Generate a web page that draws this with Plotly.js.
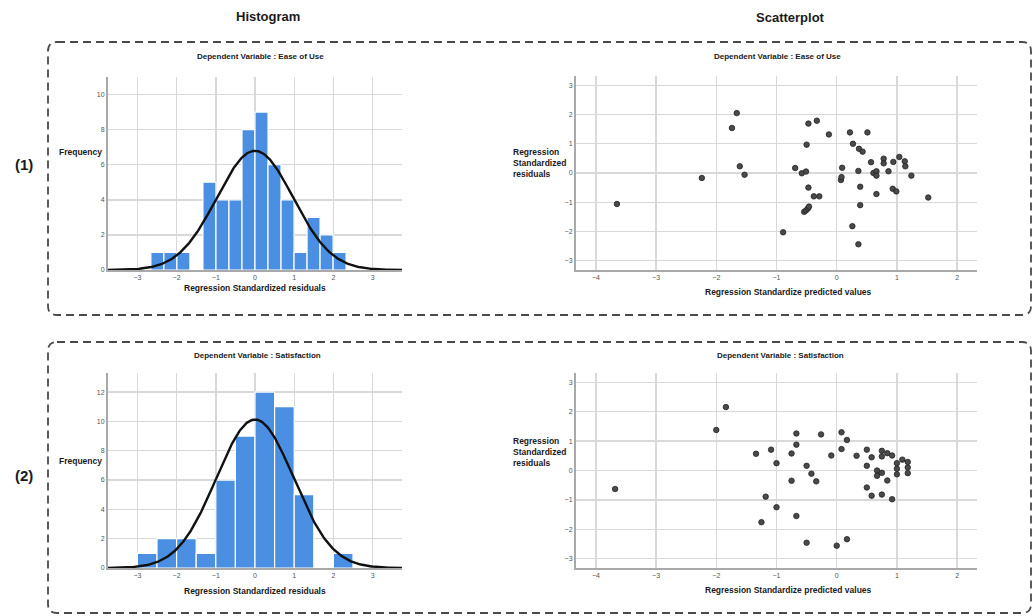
<!DOCTYPE html>
<html>
<head>
<meta charset="utf-8">
<script src="https://cdn.plot.ly/plotly-3.0.1.min.js"></script>
<style>html,body{margin:0;padding:0;background:#fff;}#chart{width:1035px;height:616px;}</style>
</head>
<body>
<div id="chart"></div>
<script>
// ---------- DATA ----------
// Histogram (1): Ease of Use residuals
const hist1BinStart = -2.656;
const hist1BinWidth = 0.332;
const hist1Counts = [1, 1, 1, 0, 5, 4, 4, 8, 9, 6, 4, 1, 3, 2, 1];
const hist1N = 50, hist1Mean = 0.0, hist1SD = 0.975;

// Histogram (2): Satisfaction residuals
const hist2BinStart = -3.0;
const hist2BinWidth = 0.5;
const hist2Counts = [1, 2, 2, 1, 6, 9, 12, 11, 5, 0, 1];
const hist2N = 50, hist2Mean = 0.0, hist2SD = 0.985;

// Scatterplot (1): Ease of Use
const scat1X = [-3.65,-2.24,-1.74,-1.66,-1.61,-1.53,-0.89,-0.69,-0.58,-0.51,-0.50,-0.47,-0.47,-0.54,-0.51,-0.48,-0.46,-0.38,-0.29,-0.33,-0.13,0.07,0.08,0.09,0.22,0.27,0.26,0.36,0.36,0.37,0.43,0.39,0.39,0.51,0.57,0.61,0.66,0.66,0.66,0.78,0.78,0.86,0.94,0.93,0.99,1.04,1.13,1.14,1.24,1.52];
const scat1Y = [-1.06,-0.17,1.54,2.05,0.23,-0.06,-2.03,0.17,-0.01,0.05,0.97,1.69,-0.50,-1.33,-1.28,-1.22,-1.15,-0.80,-0.80,1.79,1.32,-0.24,-0.14,0.18,1.39,1.00,-1.82,0.07,-2.44,0.83,0.73,-0.47,-1.10,1.39,0.37,0.00,0.06,-0.09,-0.72,0.49,0.33,0.06,0.38,-0.54,-0.63,0.55,0.40,0.23,-0.09,-0.84];

// Scatterplot (2): Satisfaction
const scat2X = [-3.68,-2.00,-1.84,-1.34,-1.25,-1.18,-1.09,-1.00,-1.00,-0.75,-0.75,-0.67,-0.67,-0.67,-0.50,-0.50,-0.42,-0.34,-0.26,-0.09,0.00,0.08,0.08,0.17,0.17,0.33,0.50,0.50,0.50,0.58,0.58,0.67,0.67,0.75,0.75,0.75,0.75,0.84,0.84,0.92,0.92,1.00,1.00,1.00,1.09,1.18,1.18,1.18];
const scat2Y = [-0.63,1.38,2.16,0.57,-1.76,-0.89,0.71,0.25,-1.25,0.58,-0.35,1.26,0.88,-1.55,0.16,-2.46,-0.11,-0.37,1.23,0.51,-2.56,1.30,0.73,1.04,-2.34,0.50,0.71,0.16,-0.58,0.45,-0.86,0.00,-0.18,0.67,0.48,-0.08,-0.82,0.59,-0.34,0.51,-0.98,0.25,0.06,-0.13,0.37,0.29,0.10,-0.09];

const histTicksX = [-3, -2, -1, 0, 1, 2, 3];
const scatTicksX = [-4, -3, -2, -1, 0, 1, 2];
const scatTicksY = [-3, -2, -1, 0, 1, 2, 3];

// ---------- HELPERS ----------
const W = 1035, H = 616;
const fx = x => x / W;
const fy = y => 1 - y / H;
const FONT = "Liberation Sans, Arial, Helvetica, sans-serif";

function binCenters(start, width, counts) {
  return counts.map((_, i) => start + (i + 0.5) * width);
}
function normalCurve(n, bw, mean, sd, xmin, xmax) {
  const xs = [], ys = [];
  const steps = 300;
  for (let i = 0; i <= steps; i++) {
    const x = xmin + (xmax - xmin) * i / steps;
    xs.push(x);
    ys.push(n * bw / (sd * Math.sqrt(2 * Math.PI)) * Math.exp(-0.5 * Math.pow((x - mean) / sd, 2)));
  }
  return {xs, ys};
}
function roundRect(x0, y0, x1, y1, r) {
  const rx = r / W, ry = r / H;
  const X0 = fx(x0), X1 = fx(x1), Y0 = fy(y0), Y1 = fy(y1);
  return `M ${X0 + rx},${Y0} L ${X1 - rx},${Y0} Q ${X1},${Y0} ${X1},${Y0 - ry} ` +
         `L ${X1},${Y1 + ry} Q ${X1},${Y1} ${X1 - rx},${Y1} L ${X0 + rx},${Y1} ` +
         `Q ${X0},${Y1} ${X0},${Y1 + ry} L ${X0},${Y0 - ry} Q ${X0},${Y0} ${X0 + rx},${Y0} Z`;
}

const histXRange = [-3.75, 3.75];
const c1 = normalCurve(hist1N, hist1BinWidth, hist1Mean, hist1SD, histXRange[0], histXRange[1]);
const c2 = normalCurve(hist2N, hist2BinWidth, hist2Mean, hist2SD, histXRange[0], histXRange[1]);

const BAR_COLOR = "#4a8fe2";
const barStyle = {color: BAR_COLOR, line: {color: "#ffffff", width: 1.2}};
const curveStyle = {color: "#111111", width: 2.4, shape: "linear"};
const markerStyle = {size: 5.5, color: "#4a4a4a", line: {color: "#222", width: 0.8}};

const traces = [
  {type: "bar", x: binCenters(hist1BinStart, hist1BinWidth, hist1Counts), y: hist1Counts,
   width: hist1BinWidth, marker: barStyle, xaxis: "x", yaxis: "y", hoverinfo: "skip"},
  {type: "scatter", mode: "lines", x: c1.xs, y: c1.ys, line: curveStyle, xaxis: "x", yaxis: "y", hoverinfo: "skip"},
  {type: "scatter", mode: "markers", x: scat1X, y: scat1Y, marker: markerStyle, xaxis: "x2", yaxis: "y2", hoverinfo: "skip"},
  {type: "bar", x: binCenters(hist2BinStart, hist2BinWidth, hist2Counts), y: hist2Counts,
   width: hist2BinWidth, marker: barStyle, xaxis: "x3", yaxis: "y3", hoverinfo: "skip"},
  {type: "scatter", mode: "lines", x: c2.xs, y: c2.ys, line: curveStyle, xaxis: "x3", yaxis: "y3", hoverinfo: "skip"},
  {type: "scatter", mode: "markers", x: scat2X, y: scat2Y, marker: markerStyle, xaxis: "x4", yaxis: "y4", hoverinfo: "skip"}
];

const axisBase = {
  showgrid: true, gridcolor: "#d9d9d9", gridwidth: 1.4,
  zeroline: false, showline: true, linecolor: "#a9a9a9", linewidth: 2,
  ticks: "", tickfont: {family: FONT, size: 7, color: "#555"}, fixedrange: true
};

const layout = {
  width: W, height: H,
  margin: {l: 0, r: 0, t: 0, b: 0},
  paper_bgcolor: "#ffffff", plot_bgcolor: "#ffffff",
  showlegend: false, bargap: 0,
  font: {family: FONT},
  xaxis:  Object.assign({}, axisBase, {domain: [fx(108), fx(402)], range: histXRange, tickvals: histTicksX, anchor: "y"}),
  yaxis:  Object.assign({}, axisBase, {domain: [fy(270), fy(77)], range: [0, 11], dtick: 2, tick0: 0, anchor: "x"}),
  xaxis2: Object.assign({}, axisBase, {domain: [fx(576), fx(977)], range: [-4.33, 2.33], tickvals: scatTicksX, anchor: "y2"}),
  yaxis2: Object.assign({}, axisBase, {domain: [fy(270), fy(76)], range: [-3.32, 3.32], tickvals: scatTicksY, anchor: "x2"}),
  xaxis3: Object.assign({}, axisBase, {domain: [fx(108), fx(402)], range: histXRange, tickvals: histTicksX, anchor: "y3"}),
  yaxis3: Object.assign({}, axisBase, {domain: [fy(568), fy(373)], range: [0, 13.3], dtick: 2, tick0: 0, anchor: "x3"}),
  xaxis4: Object.assign({}, axisBase, {domain: [fx(576), fx(977)], range: [-4.33, 2.33], tickvals: scatTicksX, anchor: "y4"}),
  yaxis4: Object.assign({}, axisBase, {domain: [fy(568), fy(373)], range: [-3.32, 3.32], tickvals: scatTicksY, anchor: "x4"}),
  shapes: [
    {type: "path", xref: "paper", yref: "paper", path: roundRect(48, 42, 1031, 315, 9),
     line: {color: "#4a4a4a", width: 1.8, dash: "8px,5px"}},
    {type: "path", xref: "paper", yref: "paper", path: roundRect(48, 342, 1031, 613, 9),
     line: {color: "#4a4a4a", width: 1.8, dash: "8px,5px"}}
  ],
  annotations: []
};

function ann(text, x, y, size, opts) {
  layout.annotations.push(Object.assign({
    text: text, xref: "paper", yref: "paper", x: fx(x), y: fy(y),
    xanchor: "center", yanchor: "middle", showarrow: false,
    font: {family: FONT, size: size, color: "#1a1a1a"}
  }, opts || {}));
}

ann("<b>Histogram</b>", 268, 16, 13);
ann("<b>Scatterplot</b>", 790, 17, 13);
ann("<b>(1)</b>", 24, 165, 15);
ann("<b>(2)</b>", 24, 475, 15);

ann("<b>Dependent Variable : Ease of Use</b>", 260, 56, 8);
ann("<b>Dependent Variable : Ease of Use</b>", 777, 56, 8);
ann("<b>Dependent Variable : Satisfaction</b>", 257, 355, 8);
ann("<b>Dependent Variable : Satisfaction</b>", 780, 355, 8);

ann("<b>Frequency</b>", 57, 152, 8.5, {xanchor: "left"});
ann("<b>Frequency</b>", 57, 461, 8.5, {xanchor: "left"});

ann("<b>Regression Standardized residuals</b>", 255, 288, 8.5);
ann("<b>Regression Standardized residuals</b>", 255, 591, 8.5);

ann("<b>Regression<br>Standardized<br>residuals</b>", 511, 163, 8.5, {xanchor: "left", align: "left"});
ann("<b>Regression<br>Standardized<br>residuals</b>", 511, 452, 8.5, {xanchor: "left", align: "left"});

ann("<b>Regression Standardize predicted values</b>", 788, 292, 8.5);
ann("<b>Regression Standardize predicted values</b>", 788, 590, 8.5);

Plotly.newPlot("chart", traces, layout, {displayModeBar: false, staticPlot: true});
</script>
</body>
</html>
